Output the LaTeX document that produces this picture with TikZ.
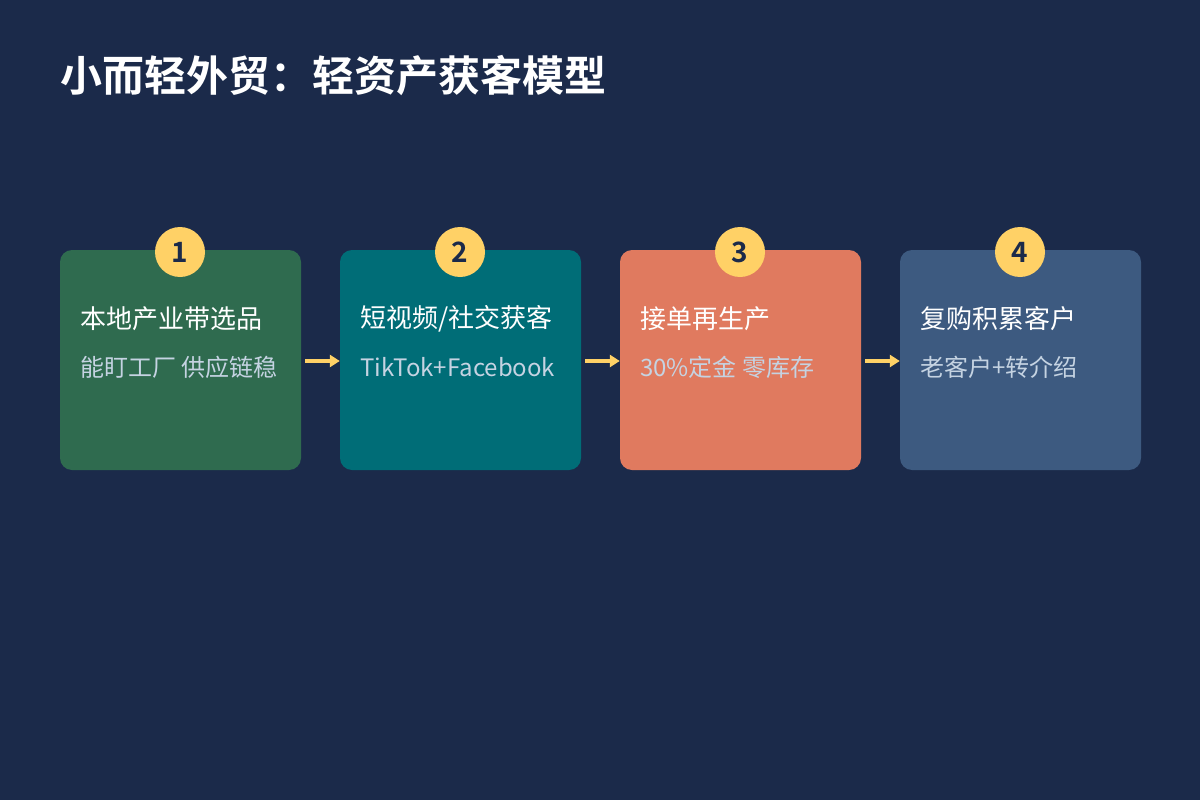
\documentclass[tikz,border=0pt]{standalone}
\usepackage{fontspec}
\setmainfont{Noto Sans CJK SC}[BoldFont={Noto Sans CJK SC Bold}]
\usetikzlibrary{arrows.meta}

\definecolor{bgnavy}{HTML}{1B2A4A}
\definecolor{cgreen}{HTML}{2F6B4F}
\definecolor{cteal}{HTML}{006D77}
\definecolor{corange}{HTML}{E07A5F}
\definecolor{cblue}{HTML}{3D5A80}
\definecolor{cyellow}{HTML}{FFD166}
\definecolor{csub}{HTML}{C5D3E2}

\tikzset{
  box/.style={rounded corners=12pt, minimum width=241pt, minimum height=220pt, inner sep=0pt},
  badge/.style={circle, fill=cyellow, minimum size=50pt, inner sep=0pt,
                text=bgnavy, font=\fontsize{28}{28}\selectfont\bfseries},
  head/.style={anchor=west, inner sep=0pt, text=white, font=\fontsize{26}{26}\selectfont},
  sub/.style={anchor=west, inner sep=0pt, text=csub, font=\fontsize{24}{24}\selectfont},
  flow/.style={cyellow, line width=3.5pt, -{Triangle[length=10pt,width=12pt]}}
}

\begin{document}
\begin{tikzpicture}[x=1pt, y=-1pt]
  \fill[bgnavy] (0,0) rectangle (1200,800);
  \useasboundingbox (0,0) rectangle (1200,800);

  \node[anchor=west, inner sep=0pt, text=white, font=\fontsize{42}{42}\selectfont\bfseries]
        (title) at (60,76) {小而轻外贸：轻资产获客模型};

  \node[box, fill=cgreen]  (b1) at ( 180.5, 360) {};
  \node[box, fill=cteal]   (b2) at ( 460.5, 360) {};
  \node[box, fill=corange] (b3) at ( 740.5, 360) {};
  \node[box, fill=cblue]   (b4) at (1020.5, 360) {};

  \node[badge] (n1) at ( 180, 252) {1};
  \node[badge] (n2) at ( 460, 252) {2};
  \node[badge] (n3) at ( 740, 252) {3};
  \node[badge] (n4) at (1020, 252) {4};

  \node[head] (h1) at ( 80, 319) {本地产业带选品};
  \node[sub]  (s1) at ( 80, 367) {能盯工厂 供应链稳};
  \node[head] (h2) at (360, 319) {短视频/社交获客};
  \node[sub]  (s2) at (360, 367) {TikTok+Facebook};
  \node[head] (h3) at (640, 319) {接单再生产};
  \node[sub]  (s3) at (640, 367) {30\%定金 零库存};
  \node[head] (h4) at (920, 319) {复购积累客户};
  \node[sub]  (s4) at (920, 367) {老客户+转介绍};

  \draw[flow] ([xshift=4pt, yshift=-1pt]b1.east) -- ([yshift=-1pt]b2.west);
  \draw[flow] ([xshift=4pt, yshift=-1pt]b2.east) -- ([yshift=-1pt]b3.west);
  \draw[flow] ([xshift=4pt, yshift=-1pt]b3.east) -- ([yshift=-1pt]b4.west);
\end{tikzpicture}
\end{document}
